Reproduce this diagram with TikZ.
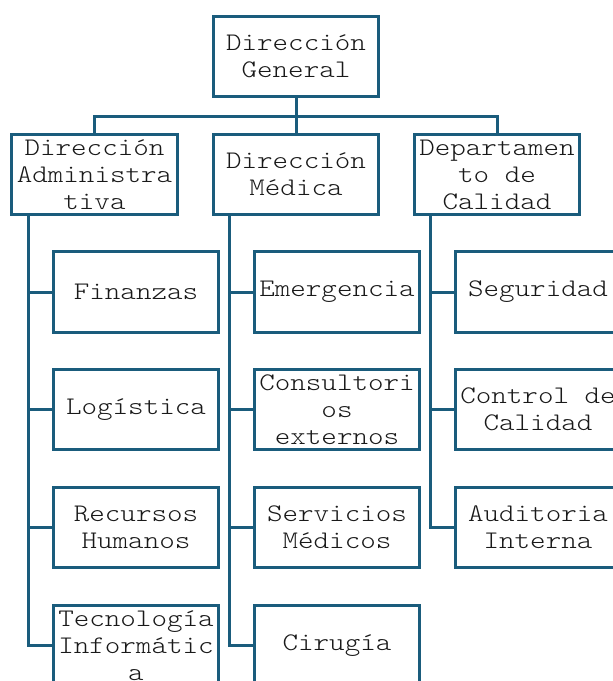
\documentclass[tikz,border=0pt]{standalone}
\usepackage{fontspec}
\newfontfamily\boxfont[FakeStretch=1.17]{lmmonolt10-regular.otf}
\definecolor{orgblue}{RGB}{26,92,124}
\tikzset{
  box/.style={draw=orgblue, line width=3pt, fill=white, rectangle,
    minimum width=165.5pt, minimum height=80.5pt, inner sep=0pt,
    align=center, font=\boxfont\fontsize{25.3}{27}\selectfont, text=black!90},
  conn/.style={draw=orgblue, line width=3pt}
}
\begin{document}
\begin{tikzpicture}[x=1pt,y=-1pt]
\useasboundingbox (0,0) rectangle (613,681);
\clip (0,0) rectangle (613,681);
\fill[white] (0,0) rectangle (613,681);
% level 1
\node[box] (top) at (296,56.5) {Dirección\\General};
% level 2
\node[box] (adm) at (94.5,174.5) {Dirección\\Administra\\tiva};
\node[box] (med) at (296,174.5) {Dirección\\Médica};
\node[box] (dep) at (497,174.5) {Departamen\\to de\\Calidad};
% level 3 - administrative
\node[box] (fin) at (136,292) {Finanzas};
\node[box] (log) at (136,409.5) {Logística};
\node[box] (rh)  at (136,527.5) {Recursos\\Humanos};
\node[box] (ti)  at (136,645.5) {Tecnología\\Informátic\\a};
% level 3 - medical
\node[box] (eme) at (337,292) {Emergencia};
\node[box] (con) at (337,409.5) {Consultori\\os\\externos};
\node[box] (ser) at (337,527.5) {Servicios\\Médicos};
\node[box] (cir) at (337,645.5) {Cirugía};
% level 3 - quality
\node[box] (seg) at (538,292) {Seguridad};
\node[box] (cc)  at (538,409.5) {Control de\\Calidad};
\node[box] (aud) at (538,527.5) {Auditoria\\Interna};
% bus
\coordinate (bus) at (296,116);
\draw[conn] (top.south) -- (bus);
\draw[conn] (adm.north) |- (bus) -| (dep.north);
\draw[conn] (med.north) -- (med.north |- bus);
% trunks
\coordinate (tA) at (28,216);
\coordinate (tM) at (229,216);
\coordinate (tD) at (430,216);
\draw[conn] (tA) |- (ti.west);
\draw[conn] (tA |- fin.west) -- (fin.west);
\draw[conn] (tA |- log.west) -- (log.west);
\draw[conn] (tA |- rh.west) -- (rh.west);
\draw[conn] (tM) |- (cir.west);
\draw[conn] (tM |- eme.west) -- (eme.west);
\draw[conn] (tM |- con.west) -- (con.west);
\draw[conn] (tM |- ser.west) -- (ser.west);
\draw[conn] (tD) |- (aud.west);
\draw[conn] (tD |- seg.west) -- (seg.west);
\draw[conn] (tD |- cc.west) -- (cc.west);
\end{tikzpicture}
\end{document}
